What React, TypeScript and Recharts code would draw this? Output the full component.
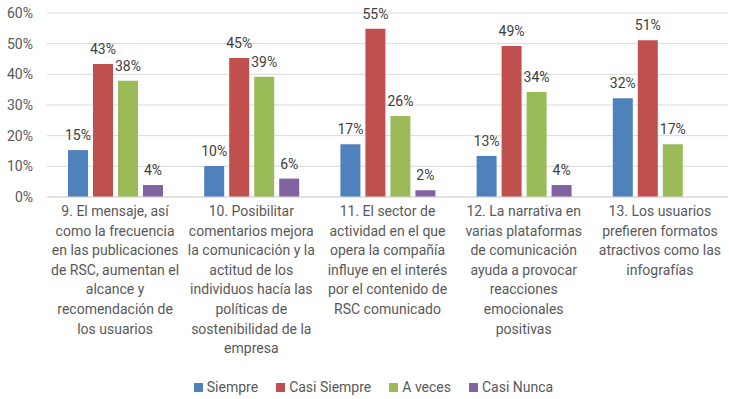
import React from 'react'
import { BarChart, Bar, XAxis, YAxis, CartesianGrid, Legend, LabelList } from 'recharts'

const categories = ['9', '10', '11', '12', '13']

const categoryLines = [
  ['9. El mensaje, así', 'como la frecuencia', 'en las publicaciones', 'de RSC, aumentan el', 'alcance y', 'recomendación de', 'los usuarios'],
  ['10. Posibilitar', 'comentarios mejora', 'la comunicación y la', 'actitud de los', 'individuos hacía las', 'políticas de', 'sostenibilidad de la', 'empresa'],
  ['11. El sector de', 'actividad en el que', 'opera la compañía', 'influye en el interés', 'por el contenido de', 'RSC comunicado'],
  ['12. La narrativa en', 'varias plataformas', 'de comunicación', 'ayuda a provocar', 'reacciones', 'emocionales', 'positivas'],
  ['13. Los usuarios', 'prefieren formatos', 'atractivos como las', 'infografías'],
]

const siempre = [15.3, 10.1, 17.2, 13.4, 32.2]
const casiSiempre = [43.4, 45.3, 54.9, 49.2, 51.1]
const aVeces = [37.9, 39.2, 26.4, 34.2, 17.2]
const casiNunca = [3.9, 6.0, 2.2, 3.9, null]

const yTicks = [0, 10, 20, 30, 40, 50, 60]

const series = [
  { key: 'siempre', name: 'Siempre', color: '#4F81BD' },
  { key: 'casiSiempre', name: 'Casi Siempre', color: '#C0504D' },
  { key: 'aVeces', name: 'A veces', color: '#9BBB59' },
  { key: 'casiNunca', name: 'Casi Nunca', color: '#8064A2' },
]

const data = categories.map((c, i) => ({
  name: c,
  siempre: siempre[i],
  casiSiempre: casiSiempre[i],
  aVeces: aVeces[i],
  casiNunca: casiNunca[i],
}))

const FONT = 'Roboto, sans-serif'

const CategoryTick = (props: any) => {
  const { x, y, payload } = props
  const lines = categoryLines[payload.index] || []
  return (
    <text x={x} y={y} textAnchor="middle" fill="#595959" fontSize={14} fontFamily={FONT}>
      {lines.map((l, i) => (
        <tspan key={i} x={x} dy={i === 0 ? 6 : 19.6}>
          {l}
        </tspan>
      ))}
    </text>
  )
}

const LegendContent = () => (
  <div
    style={{
      display: 'flex',
      justifyContent: 'center',
      fontFamily: FONT,
      fontSize: 14,
      color: '#595959',
      paddingTop: 4,
      paddingLeft: 12,
    }}
  >
    {series.map((s) => (
      <div key={s.key} style={{ display: 'flex', alignItems: 'center', margin: '0 9px' }}>
        <span style={{ width: 9, height: 9, background: s.color, display: 'inline-block', marginRight: 4 }} />
        <span>{s.name}</span>
      </div>
    ))}
  </div>
)

const fmt = (v: any) => (v == null ? '' : `${Math.round(v)}%`)

export default function App() {
  return (
    <div style={{ position: 'absolute', left: 0, top: 0, background: '#fff' }}>
      <BarChart
        width={729}
        height={399}
        data={data}
        margin={{ top: 13, right: 1, left: 7, bottom: 0 }}
        barSize={20}
        barGap={5}
      >
        <CartesianGrid stroke="#d9d9d9" vertical={false} />
        <XAxis
          dataKey="name"
          axisLine={{ stroke: '#d9d9d9' }}
          tickLine={false}
          tickSize={0}
          tickMargin={13}
          height={178}
          interval={0}
          tick={<CategoryTick />}
        />
        <YAxis
          domain={[0, 60]}
          ticks={yTicks}
          tickFormatter={(v) => `${v}%`}
          axisLine={false}
          tickLine={false}
          tickSize={0}
          tickMargin={14}
          width={40}
          tick={{ fill: '#595959', fontSize: 14, fontFamily: FONT }}
        />
        <Legend verticalAlign="bottom" height={24} content={<LegendContent />} />
        {series.map((s) => (
          <Bar key={s.key} dataKey={s.key} name={s.name} fill={s.color} isAnimationActive={false}>
            <LabelList
              dataKey={s.key}
              position="top"
              offset={10}
              formatter={fmt}
              fill="#404040"
              fontSize={14}
              fontFamily={FONT}
            />
          </Bar>
        ))}
      </BarChart>
    </div>
  )
}
